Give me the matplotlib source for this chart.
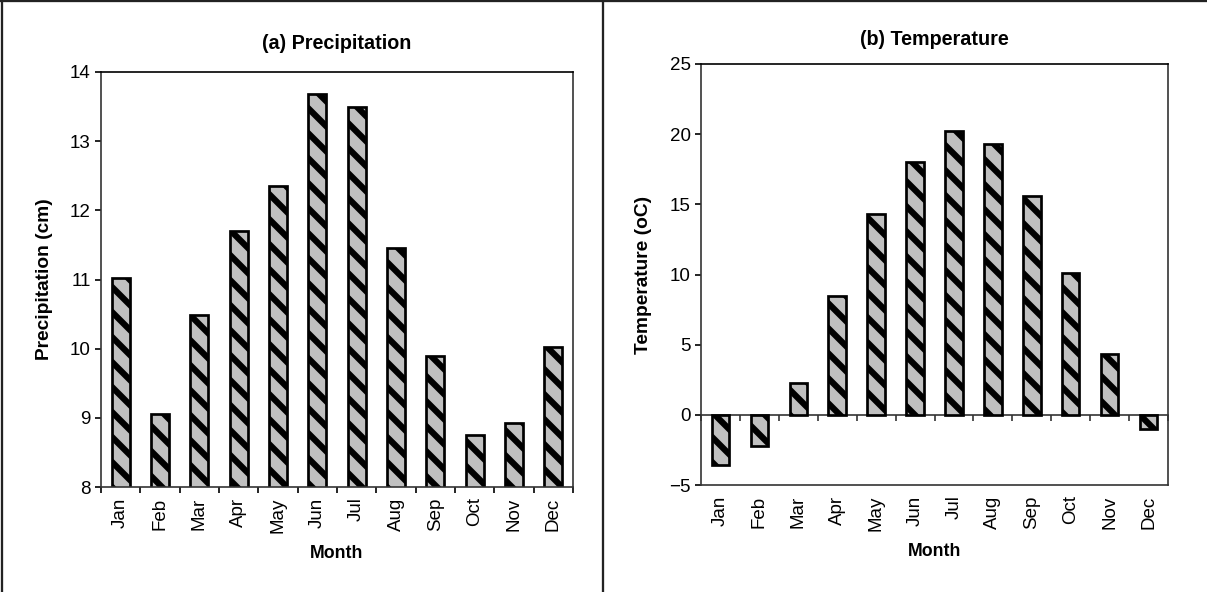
import matplotlib
matplotlib.use("Agg")
import matplotlib.pyplot as plt
from matplotlib.lines import Line2D
import numpy as np

months = ["Jan", "Feb", "Mar", "Apr", "May", "Jun", "Jul", "Aug", "Sep", "Oct", "Nov", "Dec"]
precip_cm = [11.02, 9.05, 10.48, 11.70, 12.35, 13.68, 13.50, 11.45, 9.90, 8.75, 8.92, 10.02]
temp_c = [-3.6, -2.2, 2.3, 8.5, 14.3, 18.0, 20.2, 19.3, 15.6, 10.1, 4.35, -1.0]

precip_ticks = [8, 9, 10, 11, 12, 13, 14]
temp_ticks = [-5, 0, 5, 10, 15, 20, 25]

plt.rcParams['font.family'] = ['Liberation Sans', 'DejaVu Sans']
plt.rcParams['hatch.linewidth'] = 3.0
plt.rcParams['hatch.color'] = 'black'

DPI = 150
fig = plt.figure(figsize=(1207 / DPI, 592 / DPI), dpi=DPI)

# panel frame lines (top, left edge and divider)
frame_kw = dict(transform=fig.transFigure, color='#222222', lw=1.1)
fig.add_artist(Line2D([0, 1], [0.9975, 0.9975], **frame_kw))
fig.add_artist(Line2D([0.0015, 0.0015], [0, 1], **frame_kw))
fig.add_artist(Line2D([603 / 1207, 603 / 1207], [0, 1], **frame_kw))

ax1 = fig.add_axes([101 / 1207, 1 - 487 / 592, 472 / 1207, 415 / 592])
ax2 = fig.add_axes([701 / 1207, 1 - 485 / 592, 467 / 1207, 421 / 592])

x = np.arange(len(months))
bounds = np.arange(len(months) + 1) - 0.5

TICK_FS = 9
LAB_FS = 8.5
YLAB_FS = 9.2
TITLE_FS = 9.5


def style(ax):
    for s in ax.spines.values():
        s.set_linewidth(0.8)
        s.set_color('#333333')
    ax.spines['top'].set_color('black')
    ax.set_xlim(-0.5, len(months) - 0.5)
    ax.set_xticks(x)
    ax.set_xticklabels(months, rotation=90, fontsize=TICK_FS)
    ax.tick_params(axis='x', which='major', length=0, pad=5)
    ax.tick_params(axis='y', direction='out', length=3, width=0.8, labelsize=TICK_FS, pad=2)


bar_kw = dict(width=0.45, color='#C0C0C0', edgecolor='black', linewidth=1.3, hatch='\\\\')

# (a) precipitation
ax1.bar(x, precip_cm, **bar_kw)
ax1.set_ylim(precip_ticks[0], precip_ticks[-1])
ax1.set_yticks(precip_ticks)
style(ax1)
ax1.set_xticks(bounds, minor=True)
ax1.tick_params(axis='x', which='minor', direction='out', length=3, width=0.8)
ax1.set_ylabel("Precipitation (cm)", fontsize=YLAB_FS, fontweight='bold', labelpad=8)
ax1.set_xlabel("Month", fontsize=LAB_FS, fontweight='bold', labelpad=6)
ax1.set_title("(a) Precipitation", fontsize=TITLE_FS, fontweight='bold', pad=11)

# (b) temperature
ax2.bar(x, temp_c, **bar_kw)
ax2.set_ylim(temp_ticks[0], temp_ticks[-1])
ax2.set_yticks(temp_ticks)
style(ax2)
loc0 = (0 - temp_ticks[0]) / (temp_ticks[-1] - temp_ticks[0])
sec = ax2.secondary_xaxis(loc0)
sec.set_xticks(bounds)
sec.set_xticklabels([''] * len(bounds))
sec.tick_params(axis='x', direction='out', length=3, width=0.8, color='#333333')
for side in ('top', 'bottom'):
    sec.spines[side].set_linewidth(0.8)
    sec.spines[side].set_color('#333333')
ax2.set_ylabel("Temperature (oC)", fontsize=YLAB_FS, fontweight='bold', labelpad=8)
ax2.set_xlabel("Month", fontsize=LAB_FS, fontweight='bold', labelpad=6)
ax2.set_title("(b) Temperature", fontsize=TITLE_FS, fontweight='bold', pad=9)

fig.savefig("out.png", dpi=DPI, facecolor='white')
